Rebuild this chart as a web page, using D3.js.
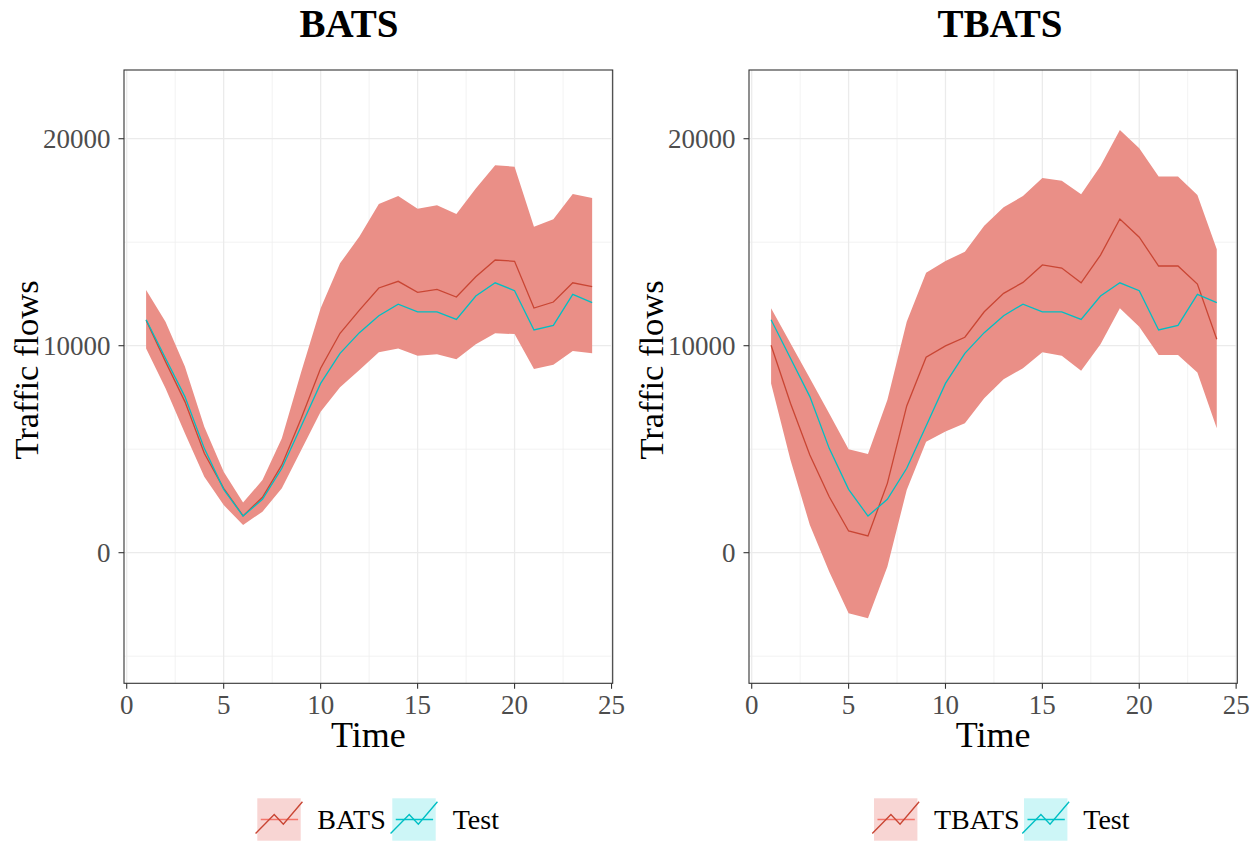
<!DOCTYPE html>
<html>
<head>
<meta charset="utf-8">
<script src="https://cdn.jsdelivr.net/npm/d3@7"></script>
<style>
  html, body { margin: 0; padding: 0; background: #fff; }
  svg { display: block; }
  text { font-family: "Liberation Serif", "Times New Roman", serif; }
</style>
</head>
<body>
<svg id="chart" width="1258" height="841"></svg>
<script>
// ---- data ----
const time = [1,2,3,4,5,6,7,8,9,10,11,12,13,14,15,16,17,18,19,20,21,22,23,24];
const testValues = [11250,9390,7540,5040,3060,1770,2580,4080,6120,8180,9630,10630,11450,12010,11630,11630,11270,12400,13040,12660,10760,10980,12480,12080];
const batsMean  = [11230,9230,7300,4800,3110,1780,2680,4240,6490,8910,10600,11720,12790,13110,12580,12720,12350,13330,14140,14080,11820,12110,13040,12850];
const batsLower = [9870,7940,5770,3670,2300,1340,1980,3110,4960,6810,7990,8830,9680,9870,9520,9590,9340,10070,10600,10560,8880,9080,9740,9630];
const batsUpper = [12690,11160,9000,6090,3910,2420,3510,5530,8740,11810,13980,15270,16850,17230,16620,16780,16360,17600,18720,18650,15750,16110,17330,17140];
const tbatsMean  = [10020,7220,4720,2700,1050,810,3350,7090,9440,9990,10410,11640,12530,13060,13900,13750,13040,14380,16120,15240,13850,13850,12980,10310];
const tbatsLower = [8180,4480,1340,-920,-2930,-3170,-680,3030,5360,5850,6250,7460,8380,8910,9680,9520,8790,10070,11810,10920,9550,9550,8700,6010];
const tbatsUpper = [11810,10120,8430,6730,5000,4770,7380,11160,13530,14090,14540,15800,16690,17230,18100,17970,17320,18680,20420,19540,18170,18170,17280,14660];
const xTicks = [0,5,10,15,20,25];
const xMinor = [2.5,7.5,12.5,17.5,22.5];
const yTicks = [0,10000,20000];
const yTickLabels = ["0","10000","20000"];
const yMinor = [-5000,5000,15000];
const panelTitles = ["BATS","TBATS"];
const legendLabels = [["BATS","Test"],["TBATS","Test"]];

// ---- styles ----
const bandColor = "#EA8F87";
const fcColor = "#C94634";
const testColor = "#00BFC4";
const keyFill = ["#F8D5D3", "#CDF6F7"];
const keyHLine = ["#F4766B", "#00C4C8"];

const svg = d3.select("#chart");
svg.append("rect").attr("width",1258).attr("height",841).attr("fill","#fff");

const panels = [
  { left:124, right:612.7, title:panelTitles[0], titleX:349, ylabX:38,
    mean:batsMean, lower:batsLower, upper:batsUpper, legend:legendLabels[0],
    legX:[257.3, 317.3, 392.3, 452.7] },
  { left:749, right:1237.3, title:panelTitles[1], titleX:1000, ylabX:663,
    mean:tbatsMean, lower:tbatsLower, upper:tbatsUpper, legend:legendLabels[1],
    legX:[874, 934, 1024, 1083.3] }
];
const panelTop = 70, panelBottom = 683.3;

panels.forEach(p => {
  const g = svg.append("g");
  const x = d3.scaleLinear().domain([-0.14, 25.06]).range([p.left, p.right]);
  const y = d3.scaleLinear().domain([-6310, 23320]).range([panelBottom, panelTop]);

  // grid
  const grid = g.append("g");
  xMinor.forEach(v => grid.append("line").attr("x1",x(v)).attr("x2",x(v)).attr("y1",panelTop).attr("y2",panelBottom)
    .attr("stroke","#EFEFEF").attr("stroke-width",0.8));
  yMinor.forEach(v => grid.append("line").attr("x1",p.left).attr("x2",p.right).attr("y1",y(v)).attr("y2",y(v))
    .attr("stroke","#EFEFEF").attr("stroke-width",0.8));
  xTicks.forEach(v => grid.append("line").attr("x1",x(v)).attr("x2",x(v)).attr("y1",panelTop).attr("y2",panelBottom)
    .attr("stroke","#EBEBEB").attr("stroke-width",1.3));
  yTicks.forEach(v => grid.append("line").attr("x1",p.left).attr("x2",p.right).attr("y1",y(v)).attr("y2",y(v))
    .attr("stroke","#EBEBEB").attr("stroke-width",1.3));

  // band
  const rows = time.map((t,i) => ({t, lo:p.lower[i], hi:p.upper[i], m:p.mean[i], test:testValues[i]}));
  g.append("path").datum(rows)
    .attr("d", d3.area().x(d=>x(d.t)).y0(d=>y(d.lo)).y1(d=>y(d.hi)))
    .attr("fill", bandColor);
  g.append("path").datum(rows)
    .attr("d", d3.line().x(d=>x(d.t)).y(d=>y(d.m)))
    .attr("fill","none").attr("stroke",fcColor).attr("stroke-width",1.3);
  g.append("path").datum(rows)
    .attr("d", d3.line().x(d=>x(d.t)).y(d=>y(d.test)))
    .attr("fill","none").attr("stroke",testColor).attr("stroke-width",1.3);

  // border
  g.append("rect").attr("x",p.left).attr("y",panelTop).attr("width",p.right-p.left).attr("height",panelBottom-panelTop)
    .attr("fill","none").attr("stroke","#333").attr("stroke-width",1.1);

  // x axis ticks
  xTicks.forEach(v => {
    g.append("line").attr("x1",x(v)).attr("x2",x(v)).attr("y1",panelBottom).attr("y2",panelBottom+5.5)
      .attr("stroke","#333").attr("stroke-width",1.1);
    g.append("text").attr("x",x(v)).attr("y",714).attr("text-anchor","middle")
      .attr("font-size",27).attr("fill","#4D4D4D").text(v);
  });
  // y axis ticks
  yTicks.forEach((v,i) => {
    g.append("line").attr("x1",p.left-5.5).attr("x2",p.left).attr("y1",y(v)).attr("y2",y(v))
      .attr("stroke","#333").attr("stroke-width",1.1);
    g.append("text").attr("x",p.left-13.5).attr("y",y(v)).attr("dy","0.33em").attr("text-anchor","end")
      .attr("font-size",27).attr("fill","#4D4D4D").text(yTickLabels[i]);
  });

  // titles
  g.append("text").attr("x",p.titleX).attr("y",37).attr("text-anchor","middle")
    .attr("font-size",39).attr("font-weight","bold").attr("fill","#000").text(p.title);
  g.append("text").attr("x",(p.left+p.right)/2).attr("y",747).attr("text-anchor","middle")
    .attr("font-size",36).attr("fill","#000").text("Time");
  g.append("text").attr("transform",`translate(${p.ylabX},370) rotate(-90)`).attr("text-anchor","middle")
    .attr("font-size",34.5).attr("fill","#000").text("Traffic flows");

  // legend
  const kW = 43.4, kH = 42.4, kY = 798.3;
  const zig = [[-0.04,0.17],[0.39,0.62],[0.6,0.39],[1.04,0.92]];
  [0,1].forEach(k => {
    const kx = p.legX[k*2];
    const lg = g.append("g");
    lg.append("rect").attr("x",kx).attr("y",kY).attr("width",kW).attr("height",kH).attr("fill",keyFill[k]);
    lg.append("line").attr("x1",kx+kW*0.08).attr("x2",kx+kW*0.94).attr("y1",kY+kH/2).attr("y2",kY+kH/2)
      .attr("stroke",keyHLine[k]).attr("stroke-width",1.3);
    lg.append("path").attr("d", d3.line()(zig.map(([a,b]) => [kx+a*kW, kY+(1-b)*kH])))
      .attr("fill","none").attr("stroke", k===0 ? fcColor : testColor).attr("stroke-width",1.4);
    lg.append("text").attr("x",p.legX[k*2+1]).attr("y",828.5).attr("font-size",28).attr("fill","#000")
      .text(p.legend[k]);
  });
});
</script>
</body>
</html>
